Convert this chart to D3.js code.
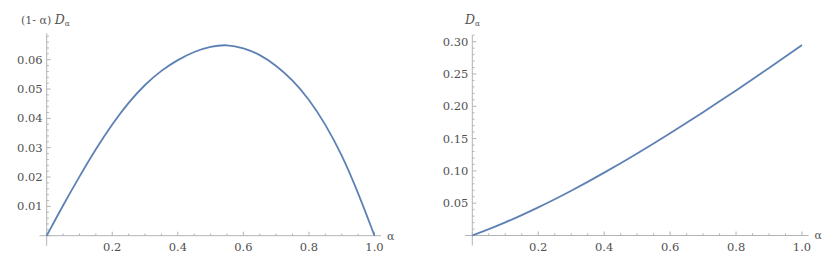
<!DOCTYPE html>
<html>
<head>
<meta charset="utf-8">
<script src="https://cdn.jsdelivr.net/npm/d3@7"></script>
<style>
  body { margin: 0; background: #fff; }
  svg { display: block; }
  .tick-label { font-family: "DejaVu Serif", "Liberation Serif", serif; font-size: 11.5px; fill: #505050; }
  .axis-title { font-family: "DejaVu Serif", "Liberation Serif", serif; font-size: 11px; fill: #555; }
</style>
</head>
<body>
<div id="chart"></div>
<script>
// alpha values sampled along the x axis
var alpha = [0, 0.05, 0.1, 0.15, 0.2, 0.25, 0.3, 0.35, 0.4, 0.45, 0.5,
             0.55, 0.6, 0.65, 0.7, 0.75, 0.8, 0.85, 0.9, 0.95, 1.0];

// left panel: (1-a) D_a
var weightedD = [0, 0.0104, 0.0202, 0.0296, 0.0381, 0.0455, 0.0516, 0.0564, 0.0600, 0.0628, 0.0646,
                 0.0652, 0.0641, 0.0618, 0.0581, 0.0531, 0.0466, 0.0381, 0.0277, 0.0147, 0];

// right panel: D_a
var plainD = [0, 0.0097, 0.0202, 0.0315, 0.0434, 0.0560, 0.0692, 0.0830, 0.0972, 0.1119, 0.1270,
              0.1425, 0.1583, 0.1745, 0.1909, 0.2076, 0.2246, 0.2419, 0.2593, 0.2770, 0.2948];

var xTicks = [0.2, 0.4, 0.6, 0.8, 1.0];
var leftYTicks = [0.01, 0.02, 0.03, 0.04, 0.05, 0.06];
var rightYTicks = [0.05, 0.10, 0.15, 0.20, 0.25, 0.30];

var svgWidth = 830;
var svgHeight = 267;

var svg = d3.select("#chart")
  .append("svg")
  .attr("width", svgWidth)
  .attr("height", svgHeight);

var axisColor = "#b3b3b3";
var lineColor = "#5e81b5";

function isMultiple(v, step) {
  var r = v / step;
  return Math.abs(r - Math.round(r)) < 1e-6;
}

function drawPanel(opts) {
  var g = svg.append("g");

  var x = d3.scaleLinear().domain([0, 1]).range([opts.left, opts.right]);
  var y = d3.scaleLinear().domain([0, opts.yMax]).range([opts.bottom, opts.top]);

  // x axis line
  g.append("line")
    .attr("x1", x(-0.022)).attr("x2", x(1.02))
    .attr("y1", y(0)).attr("y2", y(0))
    .attr("stroke", axisColor).attr("stroke-width", 1);

  // y axis line
  g.append("line")
    .attr("x1", x(0)).attr("x2", x(0))
    .attr("y1", y(opts.yMax)).attr("y2", y(0) + 10)
    .attr("stroke", axisColor).attr("stroke-width", 1);

  // x ticks (minor every 0.05, major every 0.2)
  var xMinor = d3.range(0, 21).map(function(i) { return i * 0.05; });
  g.selectAll(".xminor")
    .data(xMinor)
    .enter()
    .append("line")
    .attr("x1", d => x(d)).attr("x2", d => x(d))
    .attr("y1", y(0))
    .attr("y2", d => y(0) - (isMultiple(d, 0.2) ? 4 : 2.2))
    .attr("stroke", axisColor);

  g.selectAll(".xlabel")
    .data(xTicks)
    .enter()
    .append("text")
    .attr("class", "tick-label")
    .attr("x", d => x(d))
    .attr("y", y(0) + 15)
    .attr("text-anchor", "middle")
    .text(d => d3.format(".1f")(d));

  // y ticks
  var yMinor = d3.range(0, Math.floor(opts.yMax / opts.yMinorStep + 1e-6) + 1)
    .map(function(i) { return i * opts.yMinorStep; });
  g.selectAll(".yminor")
    .data(yMinor)
    .enter()
    .append("line")
    .attr("x1", x(0))
    .attr("x2", d => x(0) + (isMultiple(d, opts.yMajorStep) ? 4 : 2.2))
    .attr("y1", d => y(d)).attr("y2", d => y(d))
    .attr("stroke", axisColor);

  g.selectAll(".ylabel")
    .data(opts.yTicks)
    .enter()
    .append("text")
    .attr("class", "tick-label")
    .attr("x", x(0) - 4)
    .attr("y", d => y(d))
    .attr("dy", "0.35em")
    .attr("text-anchor", "end")
    .text(d => d3.format(".2f")(d));

  // curve
  var line = d3.line()
    .x((d, i) => x(alpha[i]))
    .y(d => y(d))
    .curve(d3.curveBasis);

  g.append("path")
    .datum(opts.values)
    .attr("d", line)
    .attr("fill", "none")
    .attr("stroke", lineColor)
    .attr("stroke-width", 1.8);

  // axis titles
  g.append("text")
    .attr("class", "axis-title")
    .attr("x", x(1.02) + 6)
    .attr("y", y(0))
    .attr("dy", "0.35em")
    .text("α");

  var t = g.append("text")
    .attr("class", "axis-title")
    .attr("x", opts.titleX)
    .attr("y", 24);
  if (opts.prefix) t.append("tspan").text(opts.prefix);
  t.append("tspan").attr("font-style", "italic").attr("font-size", "12.5px").text("D");
  t.append("tspan").attr("font-size", "7.5px").attr("dy", 2).text("α");
}

drawPanel({
  left: 46.7, right: 374.5, bottom: 235.7, top: 235.7 - 0.069 * 2933,
  yMax: 0.069, yMinorStep: 0.002, yMajorStep: 0.01,
  yTicks: leftYTicks, values: weightedD,
  titleX: 21, prefix: "(1- α) "
});

drawPanel({
  left: 472.3, right: 802, bottom: 235.5, top: 235.5 - 0.31 * 646,
  yMax: 0.31, yMinorStep: 0.01, yMajorStep: 0.05,
  yTicks: rightYTicks, values: plainD,
  titleX: 465, prefix: null
});
</script>
</body>
</html>
